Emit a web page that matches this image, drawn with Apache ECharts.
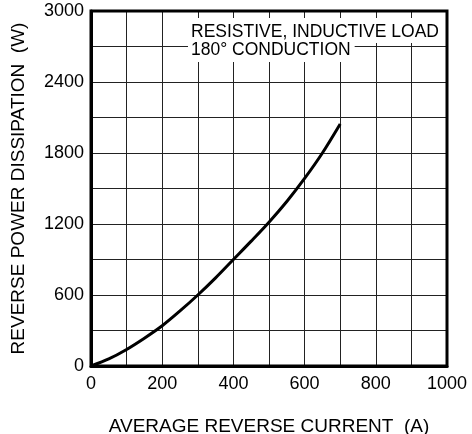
<!DOCTYPE html>
<html>
<head>
<meta charset="utf-8">
<script src="https://cdn.jsdelivr.net/npm/echarts@6/dist/echarts.min.js"></script>
<style>
html,body{margin:0;padding:0;background:#fff;}
#chart{width:472px;height:434px;}
</style>
</head>
<body>
<div id="chart"></div>
<script>
// Average reverse current (A)
const currentValues = [0, 50, 100, 150, 200, 250, 300, 350, 400, 450, 500, 550, 600, 650, 700];
// Reverse power dissipation (W)
const powerValues = [0, 60, 140, 235, 340, 465, 600, 745, 900, 1055, 1215, 1390, 1585, 1800, 2045];
const xTickStep = 100;
const xLabelStep = 200;
const yTickStep = 300;
const yLabelStep = 600;
const annotationLines = ['RESISTIVE, INDUCTIVE LOAD', '180° CONDUCTION'];

const FONT = 'Liberation Sans, Arial, Helvetica, sans-serif';
const chart = echarts.init(document.getElementById('chart'), null, {renderer: 'canvas'});
const seriesData = currentValues.map((x, i) => [x, powerValues[i]]);

chart.setOption({
  animation: false,
  backgroundColor: '#fff',
  grid: {left: 91, right: 25, top: 11, bottom: 68, containLabel: false, outerBoundsMode: 'none',
    show: true, borderColor: '#000', borderWidth: 3, backgroundColor: 'transparent', z: 5},
  xAxis: {
    type: 'value', min: 0, max: 1000, interval: xTickStep,
    name: 'AVERAGE REVERSE CURRENT  (A)', nameLocation: 'middle', nameGap: 51,
    nameTextStyle: {color: '#000', fontFamily: FONT, fontSize: 19},
    axisLine: {show: true, lineStyle: {color: '#000', width: 3}},
    axisTick: {show: false},
    axisLabel: {color: '#000', fontFamily: FONT, fontSize: 18, margin: 9,
      formatter: v => (v % xLabelStep === 0 ? String(v) : '')},
    splitLine: {show: true, lineStyle: {color: '#222', width: 1}}
  },
  yAxis: {
    type: 'value', min: 0, max: 3000, interval: yTickStep,
    name: 'REVERSE POWER DISSIPATION  (W)', nameLocation: 'middle', nameGap: 63, nameRotate: 90,
    nameTextStyle: {color: '#000', fontFamily: FONT, fontSize: 19},
    axisLine: {show: true, lineStyle: {color: '#000', width: 3}},
    axisTick: {show: false},
    axisLabel: {color: '#000', fontFamily: FONT, fontSize: 18, margin: 7,
      formatter: v => (v % yLabelStep === 0 ? String(v) : '')},
    splitLine: {show: true, lineStyle: {color: '#222', width: 1}}
  },
  graphic: [
    {type: 'text', left: 188, top: 18, z: 10,
      style: {text: annotationLines[0], font: '17.5px ' + FONT, fill: '#000',
        backgroundColor: '#fff', padding: [5, 6, 2, 3]}},
    {type: 'text', left: 188, top: 41, z: 10,
      style: {text: annotationLines[1], font: '17.5px ' + FONT, fill: '#000',
        backgroundColor: '#fff', padding: [0, 4, 3, 3]}}
  ],
  series: [{
    type: 'line', data: seriesData, smooth: 0.3, showSymbol: false,
    lineStyle: {color: '#000', width: 3}, z: 3
  }]
});
</script>
</body>
</html>
